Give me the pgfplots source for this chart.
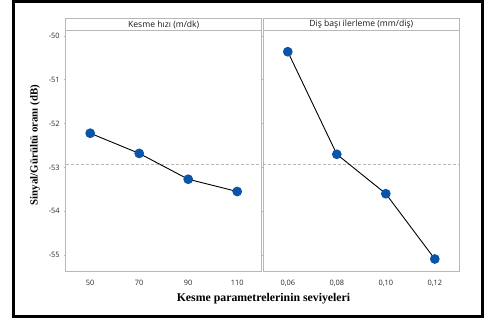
\documentclass[border=0pt]{standalone}
\usepackage{pgfplots}
\pgfplotsset{compat=1.18}
\usepackage{fontspec}
\setmainfont{Liberation Serif}
\newfontfamily\tickfont{Open Sans}
\definecolor{ptblue}{HTML}{0A55A8}
\definecolor{axgray}{HTML}{B8B8B8}
\begin{document}
\begin{tikzpicture}
\path (0pt,0pt) rectangle (485pt,322pt);
\draw[line width=3pt] (13pt,5.5pt) rectangle (482pt,320.5pt);
\pgfplotsset{panel/.style={scale only axis, width=196pt, height=241pt,
  ymin=-55.38, ymax=-49.88, axis line style={axgray, line width=0.8pt},
  tick style={axgray, line width=0.6pt}, tick align=outside, major tick length=2pt,
  ticklabel style={font=\tickfont\fontsize{7.4}{8}\selectfont, text=black!85},
  xtick style={draw=none},
  xticklabel style={yshift=-2.5pt},
  clip=false, anchor=south west}}
\begin{axis}[panel, at={(65.7pt,50.3pt)}, xmin=40, xmax=120,
  xtick={50,70,90,110}, xticklabels={50,70,90,110},
  ytick={-55,-54,-53,-52,-51,-50}, yticklabels={-55,-54,-53,-52,-51,-50},
  yticklabel style={xshift=-0.5pt}]
\addplot[axgray, dash pattern=on 3pt off 2pt, line width=0.7pt] coordinates {(40,-52.94) (120,-52.94)};
\addplot[black, line width=0.9pt, mark=*, mark size=4.4pt, mark options={draw=ptblue, fill=ptblue}]
  coordinates {(50,-52.22) (70,-52.68) (90,-53.27) (110,-53.55)};
\draw[axgray, line width=0.8pt] (rel axis cs:0,1) rectangle ([yshift=12.3pt]rel axis cs:1,1);
\node[font=\tickfont\fontsize{8.6}{9}\selectfont, text=black!90] at ([yshift=6.2pt]rel axis cs:0.5,1) {Kesme hızı (m/dk)};
\end{axis}
\begin{axis}[panel, at={(263.3pt,50.3pt)}, xmin=0.05, xmax=0.13,
  xtick={0.06,0.08,0.10,0.12}, xticklabels={{0,06},{0,08},{0,10},{0,12}},
  ytick=\empty]
\addplot[axgray, dash pattern=on 3pt off 2pt, line width=0.7pt] coordinates {(0.05,-52.94) (0.13,-52.94)};
\addplot[black, line width=0.9pt, mark=*, mark size=4.4pt, mark options={draw=ptblue, fill=ptblue}]
  coordinates {(0.06,-50.36) (0.08,-52.70) (0.10,-53.60) (0.12,-55.09)};
\draw[axgray, line width=0.8pt] (rel axis cs:0,1) rectangle ([yshift=12.3pt]rel axis cs:1,1);
\node[font=\tickfont\fontsize{8.6}{9}\selectfont, text=black!90] at ([yshift=6.2pt]rel axis cs:0.5,1) {Diş başı ilerleme (mm/diş)};
\end{axis}
\node[rotate=90, font=\bfseries\fontsize{10.8}{12}\selectfont] at (35pt,177pt) {Sinyal/Gürültü oranı (dB)};
\node[font=\bfseries\fontsize{11.8}{13}\selectfont] at (263.5pt,23pt) {Kesme parametrelerinin seviyeleri};
\end{tikzpicture}
\end{document}
